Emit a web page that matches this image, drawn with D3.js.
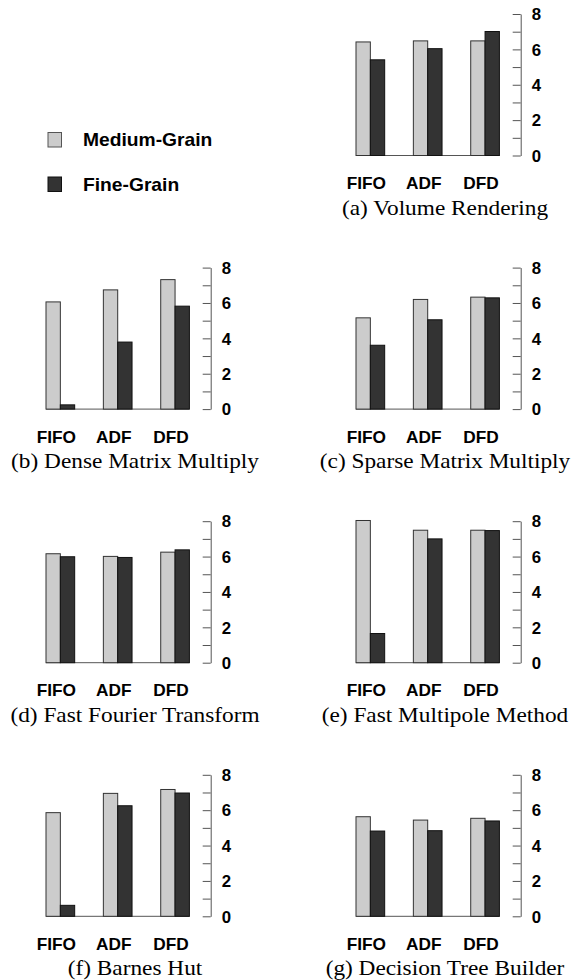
<!DOCTYPE html>
<html>
<head>
<meta charset="utf-8">
<script src="https://cdn.jsdelivr.net/npm/d3@7"></script>
<style>
  html, body { margin: 0; padding: 0; background: #fff; }
  svg { display: block; }
  .sans { font-family: "Liberation Sans", Arial, sans-serif; font-weight: 700; }
  .serif { font-family: "Liberation Serif", "Times New Roman", serif; }
</style>
</head>
<body>
<div id="chart"></div>
<script>
// categories, series and panel captions
const schedulers = ['FIFO', 'ADF', 'DFD'];
const seriesNames = ['Medium-Grain', 'Fine-Grain'];
const captions = [
  '(a) Volume Rendering',
  '(b) Dense Matrix Multiply',
  '(c) Sparse Matrix Multiply',
  '(d) Fast Fourier Transform',
  '(e) Fast Multipole Method',
  '(f) Barnes Hut',
  '(g) Decision Tree Builder',
];
// speedup values per panel, one entry per scheduler
const mediumGrain = [
  [6.42, 6.48, 6.48],
  [6.06, 6.74, 7.32],
  [5.16, 6.20, 6.33],
  [6.16, 6.01, 6.25],
  [8.04, 7.49, 7.49],
  [5.86, 6.95, 7.17],
  [5.63, 5.44, 5.54],
];
const fineGrain = [
  [5.41, 6.04, 7.01],
  [0.24, 3.79, 5.82],
  [3.61, 5.05, 6.29],
  [5.99, 5.95, 6.38],
  [1.65, 7.00, 7.47],
  [0.62, 6.25, 6.97],
  [4.82, 4.84, 5.39],
];
const yTicks = [0, 1, 2, 3, 4, 5, 6, 7, 8];

const width = 577;
const height = 980;
const fills = ['#cccccc', '#333333'];
const strokes = ['#333333', '#111111'];

const svg = d3.select('#chart').append('svg')
  .attr('width', width)
  .attr('height', height);

// panel grid: (a) sits top-right, the rest fill two columns below
const colX = [46, 356];
const rowBase = (r) => 155.5 + r * 253.6;
const plotW = 143.4;
const plotH = 141.5;

captions.forEach((caption, i) => {
  const row = i === 0 ? 0 : Math.floor((i + 1) / 2);
  const col = i === 0 ? 1 : (i + 1) % 2;
  const x0 = colX[col];
  const y0 = rowBase(row);

  const x = d3.scaleBand().domain(schedulers).range([x0, x0 + plotW]).paddingInner(0.5).paddingOuter(0);
  const xs = d3.scaleBand().domain(seriesNames).range([0, x.bandwidth()]);
  const y = d3.scaleLinear().domain([0, 8]).range([y0, y0 - plotH]);

  const g = svg.append('g');

  // baseline under the bars
  g.append('line')
    .attr('x1', x0).attr('x2', x0 + plotW)
    .attr('y1', y(0)).attr('y2', y(0))
    .attr('stroke', '#555').attr('stroke-width', 1);

  const rows = schedulers.map((s, j) => ({
    s,
    vals: [mediumGrain[i][j], fineGrain[i][j]],
  }));

  const grp = g.selectAll('g.grp').data(rows).join('g')
    .attr('class', 'grp')
    .attr('transform', (d) => `translate(${x(d.s)},0)`);

  grp.selectAll('rect').data((d) => d.vals.map((v, k) => ({ v, k })))
    .join('rect')
    .attr('x', (d) => xs(seriesNames[d.k]))
    .attr('y', (d) => y(d.v))
    .attr('width', xs.bandwidth())
    .attr('height', (d) => y(0) - y(d.v))
    .attr('fill', (d) => fills[d.k])
    .attr('stroke', (d) => strokes[d.k])
    .attr('stroke-width', 1);

  // category labels
  g.selectAll('text.cat').data(schedulers).join('text')
    .attr('class', 'cat sans')
    .attr('text-anchor', 'middle')
    .attr('font-size', 16)
    .attr('transform', (d) => `translate(${x(d) + x.bandwidth() / 2 - 4},${y0 + 33.5}) scale(1.08,1)`)
    .text((d) => d);

  // y axis on the right, ticks pointing inward
  const axis = d3.axisRight(y)
    .tickValues(yTicks)
    .tickSizeInner(-8)
    .tickSizeOuter(0)
    .tickPadding(0)
    .tickFormat((d) => (d % 2 === 0 ? d : ''));

  const ax = g.append('g')
    .attr('transform', `translate(${x0 + 164.7},0)`)
    .call(axis);
  ax.select('.domain').attr('stroke', '#555');
  ax.selectAll('.tick line').attr('stroke', '#555');
  ax.selectAll('.tick text')
    .attr('class', 'sans')
    .attr('x', null)
    .attr('dy', '0.36em')
    .attr('font-size', 16)
    .attr('fill', '#000')
    .attr('transform', 'translate(11,0) scale(1.05,1)');

  // caption
  g.append('text')
    .attr('class', 'serif')
    .attr('text-anchor', 'middle')
    .attr('font-size', 21)
    .attr('transform', `translate(${x0 + 89},${y0 + 59}) scale(1.11,1)`)
    .text(caption);
});

// legend
const legend = svg.append('g');
seriesNames.forEach((name, k) => {
  const ly = 140 + k * 44.5;
  legend.append('rect')
    .attr('x', 48).attr('y', ly - 7.5)
    .attr('width', 13.5).attr('height', 14.5)
    .attr('fill', fills[k])
    .attr('stroke', k === 0 ? '#555' : '#111');
  legend.append('text')
    .attr('class', 'sans')
    .attr('font-size', 17.5)
    .attr('dy', '0.36em')
    .attr('transform', `translate(83,${ly}) scale(1.1,1)`)
    .text(name);
});
</script>
</body>
</html>
